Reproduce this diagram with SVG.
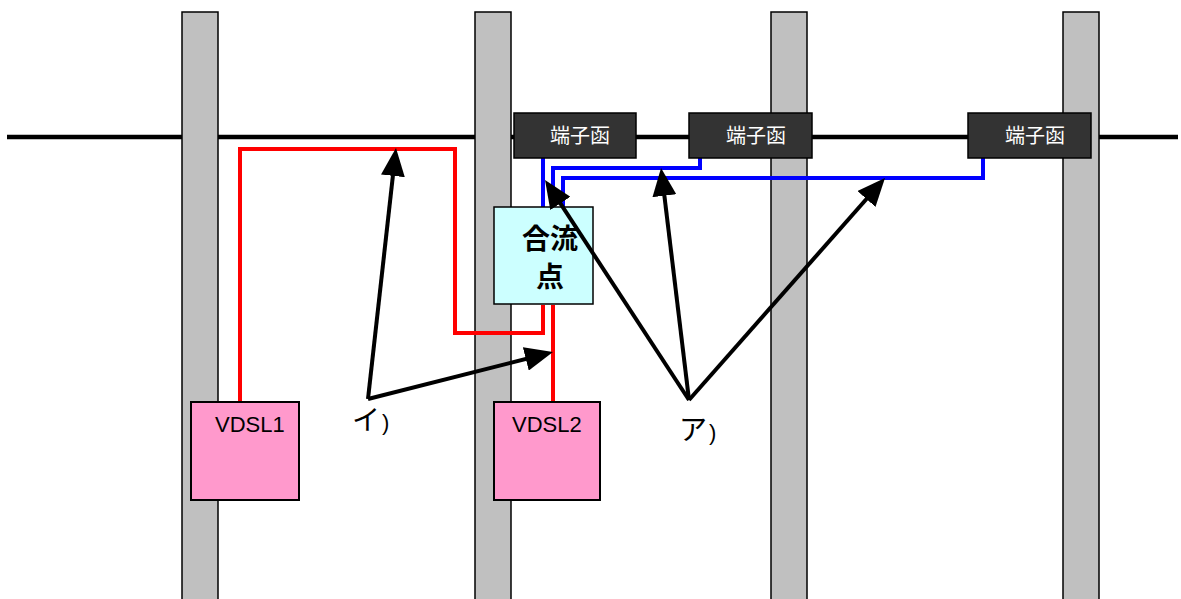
<svg xmlns="http://www.w3.org/2000/svg" width="1181" height="599" viewBox="0 0 1181 599">
<style>
.pole{fill:#C0C0C0;stroke:#000;stroke-width:1.5}
.tb{fill:#333333;stroke:#000;stroke-width:1.5}
.tbt{fill:#fff;font-family:"Noto Sans CJK JP","Noto Sans CJK SC",sans-serif;font-size:20px}
.red{fill:none;stroke:#FF0000;stroke-width:4}
.blue{fill:none;stroke:#0000FF;stroke-width:4}
.arr{fill:none;stroke:#000;stroke-width:4;marker-end:url(#ah)}
.vdsl{fill:#FF99CC;stroke:#000;stroke-width:2}
.vt{font-family:"Liberation Sans",Arial,sans-serif;font-size:22px;fill:#000}
.lbl{font-family:"Noto Sans CJK JP",sans-serif;font-size:28px;fill:#000}
.par{font-family:"Liberation Sans",Arial,sans-serif;font-size:22px}
</style>
<defs>
<marker id="ah" viewBox="0 0 28 24" refX="20" refY="12" markerWidth="28" markerHeight="24" markerUnits="userSpaceOnUse" orient="auto">
<path d="M0,0 L28,12 L0,24 z" fill="#000"/>
</marker>
</defs>
<rect width="1181" height="599" fill="#fff"/>
<line x1="7" y1="137" x2="1178" y2="137" stroke="#000" stroke-width="4.5"/>
<g id="poles">
<rect class="pole" x="182" y="12" width="36" height="600"/>
<rect class="pole" x="475" y="12" width="36" height="600"/>
<rect class="pole" x="771" y="12" width="36" height="600"/>
<rect class="pole" x="1063" y="12" width="36" height="600"/>
</g>
<g id="connectors">
<polyline class="red" points="240,402 240,149 455,149 455,333 543,333 543,305"/>
<polyline class="red" points="553,402 553,305"/>
<polyline class="blue" points="543,158 543,207"/>
<polyline class="blue" points="700,158 700,168 553,168 553,207"/>
<polyline class="blue" points="983,158 983,178 563,178 563,207"/>
</g>
<g id="tb1"><rect class="tb" x="514" y="113" width="122" height="45"/><text class="tbt" x="550" y="143">端子函</text></g>
<g id="tb2"><rect class="tb" x="689" y="113" width="123" height="45"/><text class="tbt" x="726" y="143">端子函</text></g>
<g id="tb3"><rect class="tb" x="968" y="113" width="123" height="45"/><text class="tbt" x="1005" y="143">端子函</text></g>
<g id="junction">
<rect x="494" y="207" width="99" height="97" fill="#CCFFFF" stroke="#000" stroke-width="1.5"/>
<text x="550" y="249" text-anchor="middle" font-family="Noto Sans CJK JP,sans-serif" font-weight="bold" font-size="28">合流</text>
<text x="550" y="287" text-anchor="middle" font-family="Noto Sans CJK JP,sans-serif" font-weight="bold" font-size="28">点</text>
</g>
<g id="vdsl1"><rect class="vdsl" x="191" y="402" width="108" height="98"/><text class="vt" x="215" y="432">VDSL1</text></g>
<g id="vdsl2"><rect class="vdsl" x="494" y="402" width="106" height="98"/><text class="vt" x="512" y="432">VDSL2</text></g>
<g id="arrows">
<line class="arr" x1="368" y1="399" x2="395.1" y2="156"/>
<line class="arr" x1="368" y1="399" x2="545.2" y2="354"/>
<line class="arr" x1="689" y1="400" x2="549.4" y2="186.7"/>
<line class="arr" x1="689" y1="400" x2="662" y2="175.9"/>
<line class="arr" x1="689" y1="400" x2="879.7" y2="184"/>
</g>
<g id="label-i"><text class="lbl" x="352" y="430">イ<tspan class="par" x="382">)</tspan></text></g>
<g id="label-a"><text class="lbl" x="679" y="440">ア<tspan class="par" x="709">)</tspan></text></g>
</svg>
